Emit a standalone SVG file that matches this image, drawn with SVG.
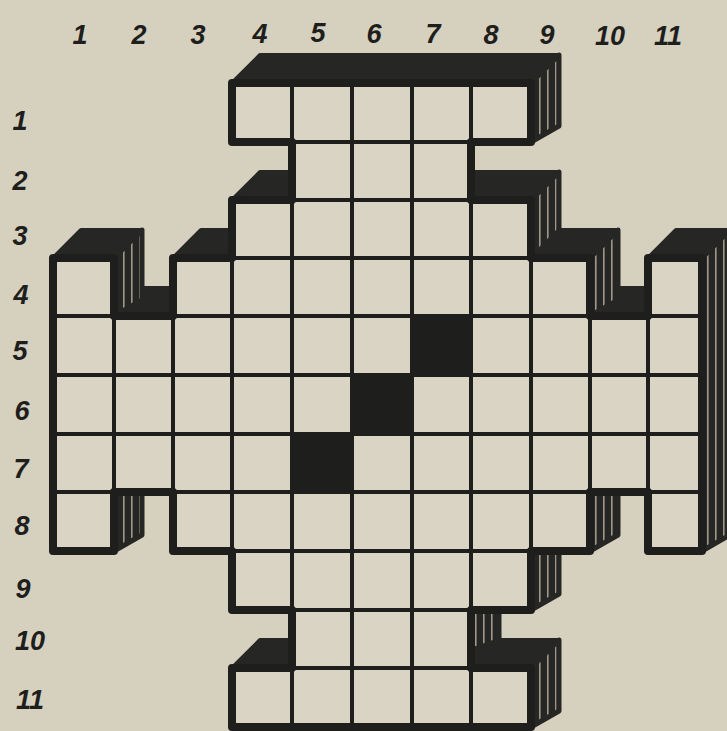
<svg xmlns="http://www.w3.org/2000/svg" width="727" height="731" viewBox="0 0 727 731">
<defs>
<pattern id="hatch" patternUnits="userSpaceOnUse" width="8" height="12">
<rect width="8" height="12" fill="#262624"/>
<rect x="3" width="1.6" height="12" fill="#9d9889"/>
</pattern>
<style>
.top{fill:#262624;stroke:#262624;stroke-width:4;stroke-linejoin:round}
.side{fill:url(#hatch);stroke:#262624;stroke-width:5;stroke-linejoin:round}
.grid{stroke:#1e1e1c;stroke-width:4;fill:none;stroke-linecap:square}
.lbl{font-family:"Liberation Sans",Arial,sans-serif;font-style:italic;font-weight:bold;font-size:27px;fill:#1e1e1c;text-anchor:middle}
</style>
</defs>
<rect width="727" height="731" fill="#d6d0bf"/>
<g id="labels-columns">
<text class="lbl" x="80" y="44">1</text>
<text class="lbl" x="139" y="44">2</text>
<text class="lbl" x="198" y="44">3</text>
<text class="lbl" x="260" y="43">4</text>
<text class="lbl" x="318" y="42">5</text>
<text class="lbl" x="374" y="43">6</text>
<text class="lbl" x="433" y="43">7</text>
<text class="lbl" x="491" y="44">8</text>
<text class="lbl" x="547" y="44">9</text>
<text class="lbl" x="610" y="45">10</text>
<text class="lbl" x="668" y="45">11</text>
</g>
<g id="labels-rows">
<text class="lbl" x="20" y="130">1</text>
<text class="lbl" x="20" y="190">2</text>
<text class="lbl" x="20" y="245">3</text>
<text class="lbl" x="21" y="304">4</text>
<text class="lbl" x="20" y="360">5</text>
<text class="lbl" x="22" y="420">6</text>
<text class="lbl" x="21" y="478">7</text>
<text class="lbl" x="22" y="535">8</text>
<text class="lbl" x="23" y="598">9</text>
<text class="lbl" x="30" y="650">10</text>
<text class="lbl" x="30" y="709">11</text>
</g>
<g id="extrusion">
<polygon class="side" points="531,200 531,258 559,242 559,172"/>
<polygon class="side" points="471,610 471,668 499,652 499,582"/>
<polygon class="top" points="232,83 531,83 559,55 260,55"/>
<polygon class="top" points="232,200 292,200 320,172 260,172"/>
<polygon class="top" points="471,200 531,200 559,172 471,172"/>
<polygon class="top" points="53,258 114,258 142,230 81,230"/>
<polygon class="top" points="173,258 232,258 260,230 201,230"/>
<polygon class="top" points="531,258 590,258 618,230 559,230"/>
<polygon class="top" points="648,258 702,258 730,230 676,230"/>
<polygon class="top" points="114,316 173,316 201,288 142,288"/>
<polygon class="top" points="590,316 648,316 676,288 618,288"/>
<polygon class="top" points="232,668 292,668 320,640 260,640"/>
<polygon class="top" points="471,668 531,668 559,640 499,640 471,650"/>
<polygon class="side" points="531,83 531,142 559,126 559,55"/>
<polygon class="side" points="590,258 590,316 618,300 618,230"/>
<polygon class="side" points="114,258 114,316 142,300 142,230"/>
<polygon class="side" points="114,492 114,551 142,535 142,464"/>
<polygon class="side" points="590,492 590,551 618,535 618,464"/>
<polygon class="side" points="531,551 531,610 559,594 559,523"/>
<polygon class="side" points="531,668 531,727 559,711 559,640"/>
<polygon class="side" points="702,258 702,551 730,535 730,230"/>
</g>
<g id="grid">
<path id="face" fill="#dad4c4" d="M232,83 H531 V142 H471 V200 H531 V258 H590 V316 H648 V258 H702 V551 H648 V492 H590 V551 H531 V610 H471 V668 H531 V727 H232 V668 H292 V610 H232 V551 H173 V492 H114 V551 H53 V258 H114 V316 H173 V258 H232 V200 H292 V142 H232 Z"/>
<g id="black-cells" fill="#1e1e1c">
<rect x="412" y="316" width="59" height="59"/>
<rect x="352" y="375" width="60" height="59"/>
<rect x="292" y="434" width="60" height="58"/>
</g>
<path class="grid" d="M292,83 V727 M352,83 V727 M412,83 V727 M471,83 V727 M232,258 V551 M114,316 V492 M173,258 V551 M531,258 V551 M590,258 V551 M648,316 V492 M292,142 H471 M292,200 H471 M232,258 H531 M53,316 H702 M53,375 H702 M53,434 H702 M53,492 H702 M232,551 H531 M292,610 H471 M292,668 H471"/>
<path fill="none" stroke="#1e1e1c" stroke-width="8" stroke-linejoin="round" d="M232,83 H531 V142 H471 V200 H531 V258 H590 V316 H648 V258 H702 V551 H648 V492 H590 V551 H531 V610 H471 V668 H531 V727 H232 V668 H292 V610 H232 V551 H173 V492 H114 V551 H53 V258 H114 V316 H173 V258 H232 V200 H292 V142 H232 Z"/>
</g>
</svg>
